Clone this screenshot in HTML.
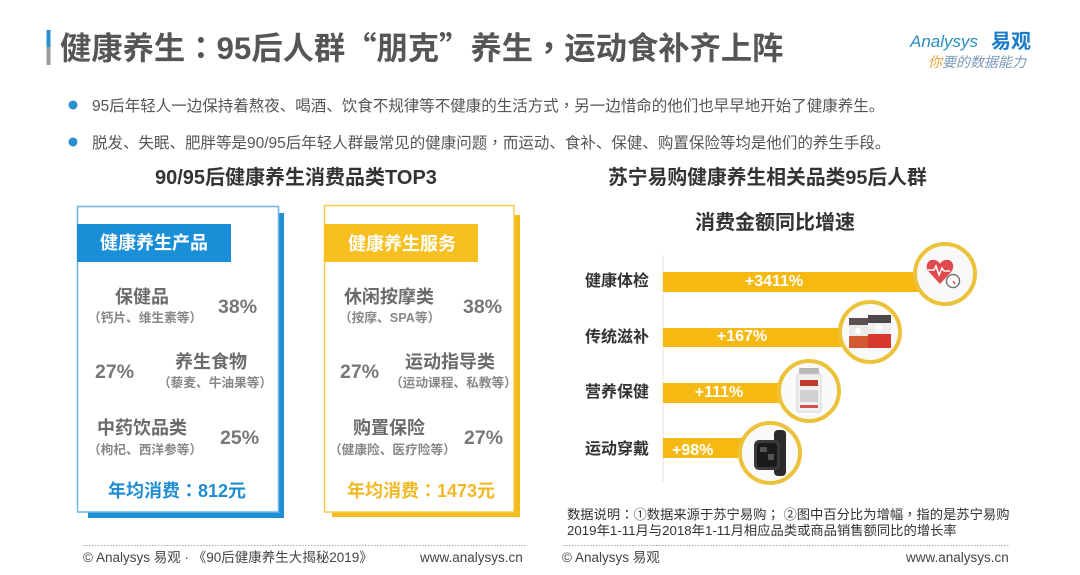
<!DOCTYPE html>
<html><head><meta charset="utf-8">
<style>
*{margin:0;padding:0;box-sizing:border-box;}
html,body{width:1080px;height:575px;background:#fff;overflow:hidden;}
body{position:relative;font-family:"Liberation Sans","Noto Sans CJK SC",sans-serif;}
.t{position:absolute;white-space:nowrap;}
.b{font-weight:bold;}
.cj{font-family:"Noto Sans CJK SC",sans-serif;}
.p{font-family:"Noto Sans CJK TC",sans-serif;}
</style></head><body>
<svg width="1080" height="575" style="position:absolute;left:0;top:0">
  <rect x="46.5" y="30" width="4" height="17" fill="#2a8fd0"/>
  <rect x="46.5" y="47" width="4" height="18" fill="#9a9a9a"/>
  <circle cx="73" cy="105" r="4.5" fill="#2a8fd0"/>
  <circle cx="73" cy="142" r="4.5" fill="#2a8fd0"/>
  <rect x="88" y="213" width="196" height="305" fill="#1e8fd5"/>
  <rect x="77.5" y="206.5" width="201" height="305.5" fill="#fff" stroke="#6cb6e2" stroke-width="1.5"/>
  <rect x="77" y="224" width="154" height="38" fill="#1a8fd8"/>
  <rect x="332" y="215" width="188" height="302" fill="#f5bb1a"/>
  <rect x="324.5" y="205.5" width="189.5" height="306.5" fill="#fff" stroke="#f4cc55" stroke-width="1.5"/>
  <rect x="324" y="224" width="154" height="38" fill="#f7bf1f"/>
  <line x1="663" y1="255" x2="663" y2="482" stroke="#e6e6e6" stroke-width="1"/>
  <rect x="663" y="272" width="270" height="20" fill="#f6b912"/>
  <rect x="663" y="328" width="190" height="19" fill="#f6b912"/>
  <rect x="663" y="383" width="130" height="20" fill="#f6b912"/>
  <rect x="663" y="438" width="90" height="20" fill="#f6b912"/>
  <circle cx="945" cy="274" r="30" fill="#f8f8f8" stroke="#ebc23a" stroke-width="4"/>
  <circle cx="870" cy="332" r="30" fill="#fafafa" stroke="#ebc23a" stroke-width="4"/>
  <circle cx="809" cy="391" r="30" fill="#fafafa" stroke="#ebc23a" stroke-width="4"/>
  <circle cx="770" cy="453" r="30" fill="#fafafa" stroke="#ebc23a" stroke-width="4"/>
  <path d="M940 284 L929 272 C924 266 928 259 934 260 C937 260 939 262 940 264 C941 262 943 260 946 260 C952 259 956 266 951 272 Z" fill="#e04a4f"/>
  <polyline points="928,270 934,270 936,266 939,275 942,268 944,271 950,271" fill="none" stroke="#fff" stroke-width="1.5"/>
  <circle cx="953" cy="281" r="6.5" fill="#fff" stroke="#777" stroke-width="1.5"/>
  <line x1="953" y1="281" x2="955" y2="284" stroke="#c33" stroke-width="1.2"/>
  <rect x="849" y="318" width="19" height="30" rx="2" fill="#e9e9e9"/>
  <rect x="849" y="318" width="19" height="7" fill="#5a5050"/>
  <rect x="849" y="336" width="19" height="12" fill="#d35a30"/>
  <rect x="868" y="315" width="23" height="33" rx="2" fill="#efefef"/>
  <rect x="868" y="315" width="23" height="8" fill="#4f4848"/>
  <rect x="868" y="334" width="23" height="14" fill="#d63a2e"/>
  <circle cx="858" cy="331" r="3" fill="#fff"/>
  <circle cx="879" cy="328" r="3.5" fill="#fff"/>
  <rect x="799" y="368" width="20" height="6" rx="1" fill="#b8b8b8"/>
  <rect x="797" y="374" width="24" height="38" rx="2" fill="#f0f0f0" stroke="#ccc" stroke-width="0.8"/>
  <rect x="800" y="380" width="18" height="6" fill="#c0392b"/>
  <rect x="800" y="390" width="18" height="12" fill="#d0d0d0"/>
  <rect x="800" y="405" width="18" height="3" fill="#d05050"/>
  <rect x="774" y="430" width="12" height="46" rx="4" fill="#2a2a2a"/>
  <rect x="754" y="440" width="26" height="30" rx="5" fill="#3a3a3a"/>
  <rect x="757" y="443" width="20" height="24" rx="3" fill="#1a1a1a"/>
  <rect x="760" y="447" width="7" height="5" fill="#555"/>
  <rect x="768" y="454" width="6" height="6" fill="#555"/>
  <line x1="83" y1="545.5" x2="527" y2="545.5" stroke="#aaa" stroke-width="1" stroke-dasharray="1.5,1.5"/>
  <line x1="563" y1="545.5" x2="1010" y2="545.5" stroke="#aaa" stroke-width="1" stroke-dasharray="1.5,1.5"/>
</svg>

<div class="t b" style="left:60px;top:27px;height:40px;line-height:40px;font-size:31.3px;color:#565656;">健康养生<span class="p">：</span>95后人群<span class="cj">“</span>朋克<span class="cj">”</span>养生<span class="p">，</span>运动食补齐上阵</div>

<div class="t" style="left:910px;top:31px;height:22px;line-height:22px;font-size:17px;font-style:italic;color:#2a8fbf;">Analysys</div>
<div class="t b" style="left:991px;top:30px;height:24px;line-height:24px;font-size:20px;color:#1a7cc8;">易观</div>
<div class="t" style="left:928px;top:53px;height:18px;line-height:18px;font-size:14px;font-style:italic;color:#7a9ab8;"><span style="color:#e8a33c">你</span>要的数据能力</div>

<div class="t" style="left:92px;top:95px;height:20px;line-height:20px;font-size:15.5px;color:#555;">95后年轻人一边保持着熬夜、喝酒、饮食不规律等不健康的生活方式<span class="p">，</span>另一边惜命的他们也早早地开始了健康养生。</div>
<div class="t" style="left:92px;top:132px;height:20px;line-height:20px;font-size:15.5px;color:#555;">脱发、失眠、肥胖等是90/95后年轻人群最常见的健康问题<span class="p">，</span>而运动、食补、保健、购置保险等均是他们的养生手段。</div>

<div class="t b" style="left:155px;top:166px;height:24px;line-height:24px;font-size:20px;color:#333;">90/95后健康养生消费品类TOP3</div>
<div class="t b" style="left:608px;top:166px;height:24px;line-height:24px;font-size:19.8px;color:#333;">苏宁易购健康养生相关品类95后人群</div>
<div class="t b" style="left:695px;top:211px;height:24px;line-height:24px;font-size:20px;color:#333;">消费金额同比增速</div>

<div class="t b" style="left:100px;top:232px;height:22px;line-height:22px;font-size:18px;color:#fff;">健康养生产品</div>
<div class="t b" style="left:348px;top:233px;height:22px;line-height:22px;font-size:18px;color:#fff;">健康养生服务</div>

<div class="t b" style="left:115px;top:286px;height:22px;line-height:22px;font-size:18px;color:#6b6b6b;">保健品</div>
<div class="t b" style="left:88px;top:310px;height:16px;line-height:16px;font-size:12.7px;color:#888;">（钙片、维生素等）</div>
<div class="t b" style="left:218px;top:295px;height:24px;line-height:24px;font-size:19.5px;color:#777;">38%</div>

<div class="t b" style="left:95px;top:360px;height:24px;line-height:24px;font-size:19.5px;color:#777;">27%</div>
<div class="t b" style="left:175px;top:351px;height:22px;line-height:22px;font-size:18px;color:#6b6b6b;">养生食物</div>
<div class="t b" style="left:158px;top:375px;height:16px;line-height:16px;font-size:12.7px;color:#888;">（藜麦、牛油果等）</div>

<div class="t b" style="left:97px;top:417px;height:22px;line-height:22px;font-size:18px;color:#6b6b6b;">中药饮品类</div>
<div class="t b" style="left:88px;top:442px;height:16px;line-height:16px;font-size:12.7px;color:#888;">（枸杞、西洋参等）</div>
<div class="t b" style="left:220px;top:426px;height:24px;line-height:24px;font-size:19.5px;color:#777;">25%</div>

<div class="t b" style="left:108px;top:479px;height:22px;line-height:22px;font-size:18px;color:#1f8dd0;">年均消费<span class="p">：</span>812元</div>

<div class="t b" style="left:344px;top:286px;height:22px;line-height:22px;font-size:18px;color:#6b6b6b;">休闲按摩类</div>
<div class="t b" style="left:339px;top:310px;height:16px;line-height:16px;font-size:12.7px;color:#888;">（按摩、SPA等）</div>
<div class="t b" style="left:463px;top:295px;height:24px;line-height:24px;font-size:19.5px;color:#777;">38%</div>

<div class="t b" style="left:340px;top:360px;height:24px;line-height:24px;font-size:19.5px;color:#777;">27%</div>
<div class="t b" style="left:405px;top:351px;height:22px;line-height:22px;font-size:18px;color:#6b6b6b;">运动指导类</div>
<div class="t b" style="left:390px;top:375px;height:16px;line-height:16px;font-size:12.7px;color:#888;">（运动课程、私教等）</div>

<div class="t b" style="left:353px;top:417px;height:22px;line-height:22px;font-size:18px;color:#6b6b6b;">购置保险</div>
<div class="t b" style="left:329px;top:442px;height:16px;line-height:16px;font-size:12.7px;color:#888;">（健康险、医疗险等）</div>
<div class="t b" style="left:464px;top:426px;height:24px;line-height:24px;font-size:19.5px;color:#777;">27%</div>

<div class="t b" style="left:347px;top:479px;height:22px;line-height:22px;font-size:18px;color:#f2b824;">年均消费<span class="p">：</span>1473元</div>

<div class="t b" style="left:585px;top:272px;height:20px;line-height:20px;font-size:16px;color:#333;">健康体检</div>
<div class="t b" style="left:585px;top:328px;height:20px;line-height:20px;font-size:16px;color:#333;">传统滋补</div>
<div class="t b" style="left:585px;top:383px;height:20px;line-height:20px;font-size:16px;color:#333;">营养保健</div>
<div class="t b" style="left:585px;top:440px;height:20px;line-height:20px;font-size:16px;color:#333;">运动穿戴</div>

<div class="t b" style="left:734px;top:272px;width:80px;text-align:center;height:20px;line-height:20px;font-size:16px;color:#fff;">+3411%</div>
<div class="t b" style="left:702px;top:327px;width:80px;text-align:center;height:20px;line-height:20px;font-size:16px;color:#fff;">+167%</div>
<div class="t b" style="left:679px;top:383px;width:80px;text-align:center;height:20px;line-height:20px;font-size:16px;color:#fff;">+111%</div>
<div class="t b" style="left:672px;top:441px;height:20px;line-height:20px;font-size:16px;color:#fff;">+98%</div>

<div class="t" style="left:567px;top:505px;height:17px;line-height:17px;font-size:13.3px;color:#333;">数据说明<span class="p">：</span>①数据来源于苏宁易购<span class="p">；</span> ②图中百分比为增幅<span class="p">，</span>指的是苏宁易购</div>
<div class="t" style="left:567px;top:522px;height:17px;line-height:17px;font-size:13.3px;color:#333;">2019年1-11月与2018年1-11月相应品类或商品销售额同比的增长率</div>

<div class="t" style="left:83px;top:549px;height:18px;line-height:18px;font-size:13.5px;color:#444;">© Analysys 易观 · 《90后健康养生大揭秘2019》</div>
<div class="t" style="left:420px;top:549px;height:18px;line-height:18px;font-size:13.5px;color:#444;">www.analysys.cn</div>
<div class="t" style="left:562px;top:549px;height:18px;line-height:18px;font-size:13.5px;color:#444;">© Analysys 易观</div>
<div class="t" style="left:906px;top:549px;height:18px;line-height:18px;font-size:13.5px;color:#444;">www.analysys.cn</div>
</body></html>
